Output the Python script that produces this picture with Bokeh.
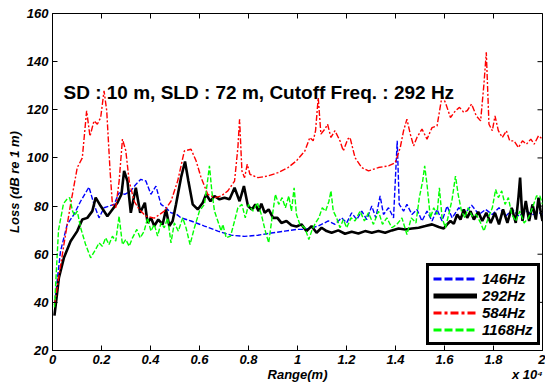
import math
from bokeh.plotting import figure
from bokeh.models import FixedTicker, Label, Legend, LegendItem, LinearAxis
from bokeh.embed import file_html
from bokeh.resources import INLINE

# ---------------- data (range in metres, loss in dB) ----------------
x_146 = [80, 328, 601, 874, 1148, 1489, 1694, 1899, 2104, 2308, 2513, 2718, 2950, 3196, 3401,
         3606, 3812, 4017, 4222, 4427, 4632, 4836, 5040, 5245, 5655, 6201, 6748, 7294, 7841,
         8387, 8933, 9480, 9958, 10300, 10846, 11256, 11529, 11802, 12007, 12212, 12417, 12622,
         12827, 13032, 13196, 13373, 13510, 13715, 13920, 14070, 14152, 14330, 14466, 14671,
         14876, 15081, 15286, 15491, 15696, 15901, 16106, 16311, 16585, 16858, 17104, 17406,
         17679, 17952, 18225, 18498, 18771, 19045, 19318, 19592, 19865, 20000]
y_146 = [39, 61.3, 72.4, 76.5, 82, 87.9, 80.7, 75.1, 79.3, 80, 80.7, 85.5, 84.9, 86.3, 89,
         91.1, 90.4, 84.9, 88.3, 80.7, 79.3, 77.2, 76.8, 75.1, 73.8, 71.7, 69.6, 67.9, 67.4,
         67.9, 68.8, 69.6, 70.3, 70.3, 71.7, 73.8, 72.4, 75.1, 73, 77.2, 74.4, 77.9,
         74.4, 80, 75.1, 84.2, 76.5, 79.3, 75.1, 107.1, 80.7, 77.9, 80.7, 76.5,
         78.6, 73.8, 77.9, 73.8, 78.6, 73.8, 80, 75.1, 79.3, 77.2, 80.4, 76.5,
         78.6, 76.5, 79.3, 75.8, 78.6, 75.8, 77.9, 76.5, 77.2, 76.5]

x_292 = [80, 260, 465, 738, 1011, 1216, 1421, 1626, 1762, 1967, 2240, 2445, 2650, 2814, 2923,
         3060, 3196, 3401, 3579, 3770, 3880, 4017, 4154, 4318, 4495, 4632, 4768, 4904, 5040,
         5245, 5409, 5546, 5723, 5928, 6133, 6270, 6447, 6611, 6816, 7021, 7226, 7431, 7636,
         7813, 7977, 8141, 8278, 8414, 8524, 8660, 8824, 9002, 9180, 9343, 9548, 9753, 9958,
         10163, 10368, 10573, 10778, 10983, 11188, 11392, 11666, 11939, 12212, 12485, 12758,
         13032, 13305, 13578, 13852, 14125, 14398, 14671, 14944, 15218, 15491, 15764, 15969,
         16106, 16243, 16380, 16516, 16653, 16790, 16926, 17063, 17199, 17377, 17542, 17706,
         17884, 18061, 18225, 18389, 18567, 18744, 18908, 19018, 19086, 19182, 19318, 19455,
         19592, 19728, 19837, 19933, 20000]
y_292 = [34.5, 50.1, 58.5, 65.4, 69.6, 74.4, 75.1, 77.9, 83.5, 80, 75.8, 78.6, 81.4, 84.9, 94.6,
         90.4, 77.2, 87.6, 77.2, 81.4, 73, 75.1, 71.7, 74.4, 72.4, 78.6, 71.7, 73.8, 80.7,
         91.8, 98.5, 90.4, 80.7, 78.6, 81.4, 84.9, 82, 84.2, 82.8, 83.5, 82.8, 87.6, 82,
         88.3, 80, 78.6, 80.7, 77.9, 81, 77.2, 78.6, 75.1, 75.1, 73, 73.8, 72, 71.5,
         72.4, 69.6, 71.7, 68.9, 71, 69.6, 68.9, 69.9, 68.5, 69.3, 68.6, 69.6,
         68.9, 69.6, 68.9, 69.9, 70.7, 70.3, 70.7, 71, 71.7, 72.4, 71.3, 70.7,
         72.4, 73.8, 72.6, 76.5, 74.4, 78.6, 75.1, 77.9, 74.4, 77.6, 73.8, 77.2,
         73, 77.2, 72.4, 78.6, 73, 79.3, 73, 83.5, 91.8, 73.8, 82.1, 73.8,
         80.7, 74.4, 83.5, 77.2, 73.8]

x_584 = [80, 465, 738, 1011, 1216, 1393, 1530, 1694, 1830, 1967, 2104, 2213, 2350, 2445, 2582,
         2720, 2855, 2992, 3129, 3334, 3539, 3812, 4154, 4563, 4836, 5109, 5382, 5655, 5860,
         6065, 6338, 6611, 6885, 7158, 7431, 7567, 7636, 7731, 7840, 7950, 8059, 8387, 8797,
         9206, 9616, 9958, 10300, 10505, 10641, 10737, 10846, 10955, 11119, 11228, 11365,
         11529, 11734, 11871, 12048, 12144, 12349, 12622, 12895, 13305, 13715, 13988, 14193,
         14330, 14466, 14603, 14740, 14876, 15081, 15286, 15491, 15696, 15901, 16038, 16243,
         16448, 16612, 16790, 16926, 17104, 17296, 17474, 17610, 17706, 17815, 17952, 18061,
         18198, 18362, 18526, 18662, 18840, 19018, 19182, 19346, 19523, 19660, 19837, 20000]
y_584 = [39, 64, 80.7, 96, 100, 119.6, 109, 115.4, 114, 116.8, 127.9, 119.6, 94.6, 80.7, 79.3,
         90.4, 107.8, 103, 90.4, 82, 78.6, 75.8, 75, 77.9, 82, 90.4, 102.9, 103.6, 98.8,
         91.8, 84.9, 83.5, 84.2, 86.3, 90.4, 104.3, 116.1, 94.6, 91.8, 97.4, 93.2, 91.8, 92.5,
         93.9, 96, 98.8, 102.9, 108.5, 107.1, 111.3, 125.1, 109.9, 112, 114, 108.5,
         111.3, 107.1, 102.9, 107.8, 108.5, 100.1, 96, 94.6, 96, 96.7, 98, 104.3,
         111.3, 116.1, 109.9, 105, 108.5, 112, 107.8, 112.6, 113.3, 125.8, 123, 116.8,
         119.6, 121, 118.9, 119.6, 122.4, 117.5, 115.4, 130.7, 143.9, 114, 111.3, 117.5,
         111.3, 108.5, 111.3, 107.1, 107.1, 104.3, 107.1, 105.7, 107.8, 105.7, 109.2, 107.8]

x_1168 = [80, 245, 449, 600, 700, 816, 900, 1011, 1148, 1352, 1557, 1762, 1899, 2035, 2172,
          2308, 2445, 2582, 2718, 2855, 2992, 3129, 3265, 3442, 3579, 3743, 3880, 4017, 4154,
          4290, 4427, 4563, 4700, 4836, 4972, 5136, 5314, 5450, 5614, 5792, 5997, 6201, 6311,
          6406, 6502, 6611, 6748, 6885, 6953, 7089, 7267, 7431, 7567, 7731, 7868, 8004, 8182,
          8360, 8524, 8687, 8824, 8961, 9097, 9234, 9370, 9507, 9644, 9753, 9862, 9958, 10095,
          10300, 10464, 10600, 10737, 10873, 11010, 11146, 11283, 11365, 11460, 11597, 11734,
          11871, 12007, 12185, 12349, 12554, 12731, 12895, 13100, 13305, 13469, 13647, 13852,
          14057, 14262, 14466, 14644, 14835, 14972, 15109, 15191, 15286, 15423, 15560, 15696,
          15792, 15901, 16038, 16174, 16311, 16448, 16557, 16694, 16831, 16967, 17131, 17296,
          17474, 17610, 17788, 17952, 18088, 18198, 18335, 18471, 18608, 18744, 18908, 19072,
          19250, 19428, 19592, 19755, 19892, 20000]
y_1168 = [38, 70, 81, 83, 83.5, 78, 76, 77.9, 71, 64, 58.5, 62, 64.7, 63.3, 66.8,
          64, 67.5, 65.4, 75.8, 64, 66.1, 63.3, 66.8, 70.3, 66.8, 69.6, 75.1, 69.6, 72.4,
          67.5, 73, 71, 75.1, 64.7, 73, 69.6, 75.1, 71, 64, 71, 77.9, 80.7, 89,
          96.7, 86.3, 77.9, 73.8, 69.6, 72.4, 66.8, 67.5, 73.8, 79.3, 80.7, 75.1, 80.7, 77.9,
          81.4, 76.5, 69.6, 64.7, 75.1, 84.9, 80.7, 83.5, 79.3, 84.2, 77.9, 87.6, 76.5, 72.4,
          71, 66.1, 70.3, 73, 75.1, 79.3, 77.9, 82, 86.3, 77.9, 75.1, 71,
          74.4, 71, 75.1, 73.8, 77.9, 73.8, 77.2, 72.4, 77.9, 72.4, 75.1, 71,
          72.4, 75.1, 68.2, 75.1, 73, 83.5, 90.4, 96.7, 89, 75.1, 79.3, 76.5,
          87.6, 75.1, 71, 76.5, 82.8, 92.5, 84.9, 77.9, 75.1, 79.3, 75.8, 76.5,
          73, 69.6, 75.1, 79.3, 86.9, 83.5, 86.3, 80.7, 83.5, 76.5, 73.8, 77.9,
          73, 75.1, 79.3, 84.2, 84.2, 80.7]

series_names = ["146Hz", "292Hz", "584Hz", "1168Hz"]
x_tick_vals = [0, 2000, 4000, 6000, 8000, 10000, 12000, 14000, 16000, 18000, 20000]
x_tick_labels = ["0", "0.2", "0.4", "0.6", "0.8", "1", "1.2", "1.4", "1.6", "1.8", "2"]
y_tick_vals = [20, 40, 60, 80, 100, 120, 140, 160]
x_title = "Range(m)"
x_title_pos = 10000
x_exponent = "x 10\u2074"
x_exponent_pos = 19380
y_title = "Loss (dB re 1 m)"
annotation_text = "SD : 10 m, SLD : 72 m, Cutoff Freq. : 292 Hz"

FONT = "Liberation Sans"
X_MIN, X_MAX, Y_MIN, Y_MAX = 0, 20000, 20, 160

p = figure(width=545, height=387, x_range=(X_MIN, X_MAX), y_range=(Y_MIN, Y_MAX),
           output_backend="svg", toolbar_location=None,
           min_border_left=52, min_border_right=3, min_border_top=13, min_border_bottom=37,
           background_fill_color="white", border_fill_color="white")
p.grid.visible = False
p.outline_line_color = "black"
p.outline_line_width = 1
p.outline_line_alpha = 1

for ax in (p.xaxis[0], p.yaxis[0]):
    ax.major_tick_in = 5
    ax.major_tick_out = 0
    ax.minor_tick_line_color = None
    ax.axis_line_color = "black"
    ax.major_tick_line_color = "black"
    ax.major_label_text_font = FONT
    ax.major_label_text_font_style = "bold italic"
    ax.major_label_text_font_size = "13px"
    ax.major_label_text_color = "black"

p.xaxis.ticker = FixedTicker(ticks=x_tick_vals)
p.xaxis.major_label_overrides = {v: l for v, l in zip(x_tick_vals, x_tick_labels)}
p.xaxis.major_label_standoff = 4
p.yaxis.ticker = FixedTicker(ticks=y_tick_vals)
p.yaxis.major_label_standoff = 4
p.yaxis.axis_label = y_title
p.yaxis.axis_label_text_font = FONT
p.yaxis.axis_label_text_font_style = "bold italic"
p.yaxis.axis_label_text_font_size = "13px"
p.yaxis.axis_label_text_color = "black"
p.yaxis.axis_label_standoff = 2

# second row under the x axis: axis title and the x10^4 multiplier
title_axis = LinearAxis(ticker=FixedTicker(ticks=[x_title_pos, x_exponent_pos]),
                        major_label_overrides={x_title_pos: x_title, x_exponent_pos: x_exponent},
                        major_tick_in=0, major_tick_out=0, major_tick_line_color=None,
                        minor_tick_line_color=None, axis_line_color=None,
                        major_label_standoff=0, major_label_text_font=FONT,
                        major_label_text_font_style="bold italic",
                        major_label_text_font_size="13px", major_label_text_color="black")
p.add_layout(title_axis, "below")

# mirrored inward tick marks on the top and right frame edges (half clipped by the frame)
p.scatter(x=x_tick_vals, y=[Y_MAX] * len(x_tick_vals), marker="dash", angle=math.pi / 2,
          size=10, line_color="black", line_width=1)
p.scatter(x=[X_MAX] * len(y_tick_vals), y=y_tick_vals, marker="dash",
          size=10, line_color="black", line_width=1)

r1 = p.line(x_146, y_146, line_color="#0000FF", line_width=1.4, line_dash="5 2")
r2 = p.line(x_292, y_292, line_color="black", line_width=2.6)
r3 = p.line(x_584, y_584, line_color="#FF0000", line_width=1.4, line_dash="6 2 2 2")
r4 = p.line(x_1168, y_1168, line_color="#00FF00", line_width=1.4, line_dash="5 2")

# legend samples (thicker, as in the reference legend); a single NaN point draws nothing
nan = float("nan")
l1 = p.line([nan], [nan], line_color="#0000FF", line_width=3, line_dash="8 3")
l2 = p.line([nan], [nan], line_color="black", line_width=5)
l3 = p.line([nan], [nan], line_color="#FF0000", line_width=3, line_dash="8 3 3 3")
l4 = p.line([nan], [nan], line_color="#00FF00", line_width=3, line_dash="8 3")

legend = Legend(items=[LegendItem(label=n, renderers=[r]) for n, r in zip(series_names, [l1, l2, l3, l4])],
                location=(374, 5), orientation="vertical",
                border_line_color="black", border_line_width=3, border_line_alpha=1,
                background_fill_color="white", background_fill_alpha=1,
                label_text_font=FONT, label_text_font_style="bold italic",
                label_text_font_size="15px", label_text_color="black",
                glyph_width=44, glyph_height=17, label_height=17,
                label_standoff=5, spacing=0, padding=4, margin=0)
p.add_layout(legend, "center")

p.add_layout(Label(x=449, y=127.2, text=annotation_text, text_font=FONT,
                   text_font_style="bold", text_font_size="19px", text_color="black",
                   text_baseline="alphabetic", text_align="left"))

open("out.html", "w").write(file_html(p, INLINE))
